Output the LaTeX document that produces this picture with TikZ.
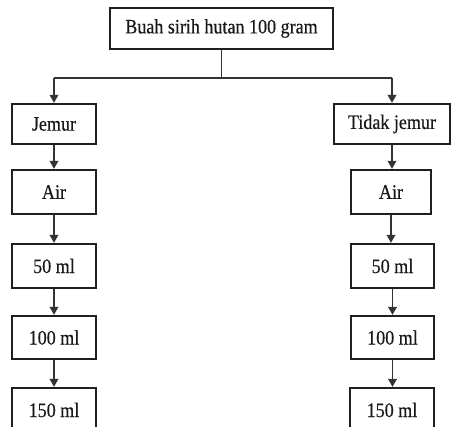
\documentclass[tikz,border=0pt]{standalone}
\usepackage{fontspec}
\setmainfont{Liberation Serif}[FakeStretch=0.88,FakeBold=0.4]
\usetikzlibrary{arrows.meta}
\tikzset{
  stepbox/.style={draw=black!88, line width=2.2pt, fill=white, inner sep=0pt,
    text=black!90, font=\fontsize{20.5}{23}\selectfont, anchor=center},
  link/.style={draw=black!80, line width=1.8pt},
  flow/.style={link, -{Triangle[width=8.5pt,length=8pt]}},
}
\begin{document}
\begin{tikzpicture}[x=1pt,y=-1pt]
  \useasboundingbox (0,0) rectangle (451,427);
  \clip (0,0) rectangle (451,427);
  \fill[white] (0,0) rectangle (451,427);

  % root
  \node[stepbox, minimum width=223pt, minimum height=41pt] (root) at (221.5,28.5) {Buah sirih hutan 100 gram};

  % left branch
  \node[stepbox, minimum width=84pt, minimum height=40pt] (l1) at (54,124) {Jemur};
  \node[stepbox, minimum width=84pt, minimum height=44pt] (l2) at (54,192) {Air};
  \node[stepbox, minimum width=84pt, minimum height=44pt] (l3) at (54,266) {50 ml};
  \node[stepbox, minimum width=84pt, minimum height=43pt] (l4) at (54,337.5) {100 ml};
  \node[stepbox, minimum width=84pt, minimum height=44pt] (l5) at (54,410) {150 ml};

  % right branch
  \node[stepbox, minimum width=116pt, minimum height=40pt] (r1) at (392,124) {Tidak jemur};
  \node[stepbox, minimum width=80pt, minimum height=44pt] (r2) at (391,192) {Air};
  \node[stepbox, minimum width=83pt, minimum height=44pt] (r3) at (392.5,266) {50 ml};
  \node[stepbox, minimum width=83pt, minimum height=43pt] (r4) at (392.5,337.5) {100 ml};
  \node[stepbox, minimum width=84pt, minimum height=44pt] (r5) at (392,410) {150 ml};

  % split from the root
  \coordinate (fork) at (221.5,78);
  \draw[link] (root.south) -- (fork);
  \draw[link] (l1.north |- fork) -- (r1.north |- fork);
  \draw[flow] (l1.north |- fork) -- (l1.north);
  \draw[flow] (r1.north |- fork) -- (r1.north);

  % chains
  \foreach \a/\b in {l1/l2, l2/l3, l3/l4, l4/l5}
    \draw[flow] (\a.south) -- (\a.south |- \b.north);
  \foreach \a/\b in {r1/r2, r2/r3, r3/r4, r4/r5}
    \draw[flow] (\a.south) -- (\a.south |- \b.north);
\end{tikzpicture}
\end{document}
